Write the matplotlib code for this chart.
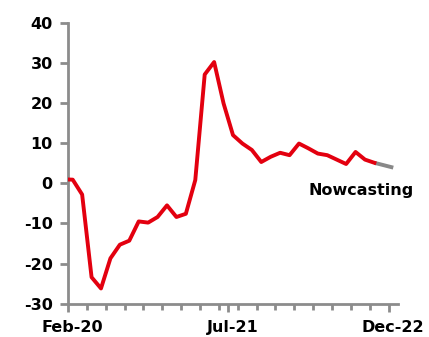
import numpy as np
import pandas as pd
import matplotlib
matplotlib.use("Agg")
import matplotlib.pyplot as plt

# monthly index, Jan-20 .. Oct-22 (Jan-20 sits just outside the left edge)
months = pd.date_range("2020-01-01", "2022-10-01", freq="MS")
values = [1.0, 0.9, -2.8, -23.4, -26.2, -18.7, -15.3, -14.3, -9.5, -9.8,
          -8.4, -5.5, -8.4, -7.6, 0.8, 27.1, 30.2, 19.9, 12.0, 9.9,
          8.3, 5.3, 6.6, 7.6, 7.0, 9.9, 8.7, 7.4, 7.0, 5.9,
          4.8, 7.8, 5.9, 5.1]
# nowcast continues from the last observed month
now_months = pd.date_range("2022-10-01", "2022-12-01", freq="MS")
now_values = [5.1, 4.5, 3.9]

label_months = ["Feb-20", "Jul-21", "Dec-22"]
yticks = [-30, -20, -10, 0, 10, 20, 30, 40]

RED = "#E3000F"
GREY = "#888888"
AX = "#8C8C8C"
FONT = "DejaVu Sans"

all_months = months.append(now_months[1:])
pos = {m: i for i, m in enumerate(all_months)}
x_obs = [pos[m] for m in months]
x_now = [pos[m] for m in now_months]
start = pos[pd.Timestamp("2020-02-01")]
end = pos[now_months[-1]]

fig = plt.figure(figsize=(4.29, 3.37), dpi=100)
ax = fig.add_axes([0.1585, 0.0988, 0.7692, 0.8338])

ax.plot(x_now, now_values, color=GREY, lw=2.8, solid_capstyle="butt", zorder=2)
ax.plot(x_obs, values, color=RED, lw=2.8, solid_joinstyle="round", zorder=3)

ax.set_xlim(start - 0.5, end + 0.5)
ax.set_ylim(-30, 40)

for s in ["top", "right"]:
    ax.spines[s].set_visible(False)
for s in ["left", "bottom"]:
    ax.spines[s].set_color(AX)
    ax.spines[s].set_linewidth(2)

ax.set_yticks(yticks)
ax.set_yticklabels([str(t) for t in yticks], fontsize=11.5, fontweight="bold", family=FONT)
ax.tick_params(axis="y", length=6, width=2, color=AX, pad=5)

# category boundaries: small ticks every 2 months, longer ones at the labels
bounds = np.arange(start, end + 1) - 0.5
ax.set_xticks(bounds[::17])
ax.set_xticklabels([])
ax.set_xticks(bounds[::2], minor=True)
ax.tick_params(axis="x", which="major", length=6, width=2, color=AX)
ax.tick_params(axis="x", which="minor", length=4, width=2, color=AX)

lab = ax.secondary_xaxis("bottom")
lab.set_xticks([pos[pd.to_datetime(l, format="%b-%y")] for l in label_months])
lab.set_xticklabels(label_months, fontsize=11.5, fontweight="bold", family=FONT)
lab.tick_params(length=0, pad=12)
lab.spines["bottom"].set_visible(False)

ax.text(pos[pd.Timestamp("2022-03-01")] + 0.05, -1.7, "Nowcasting", fontsize=11.5,
        fontweight="bold", family=FONT, ha="left", va="center")

fig.savefig("out.png", dpi=100)
